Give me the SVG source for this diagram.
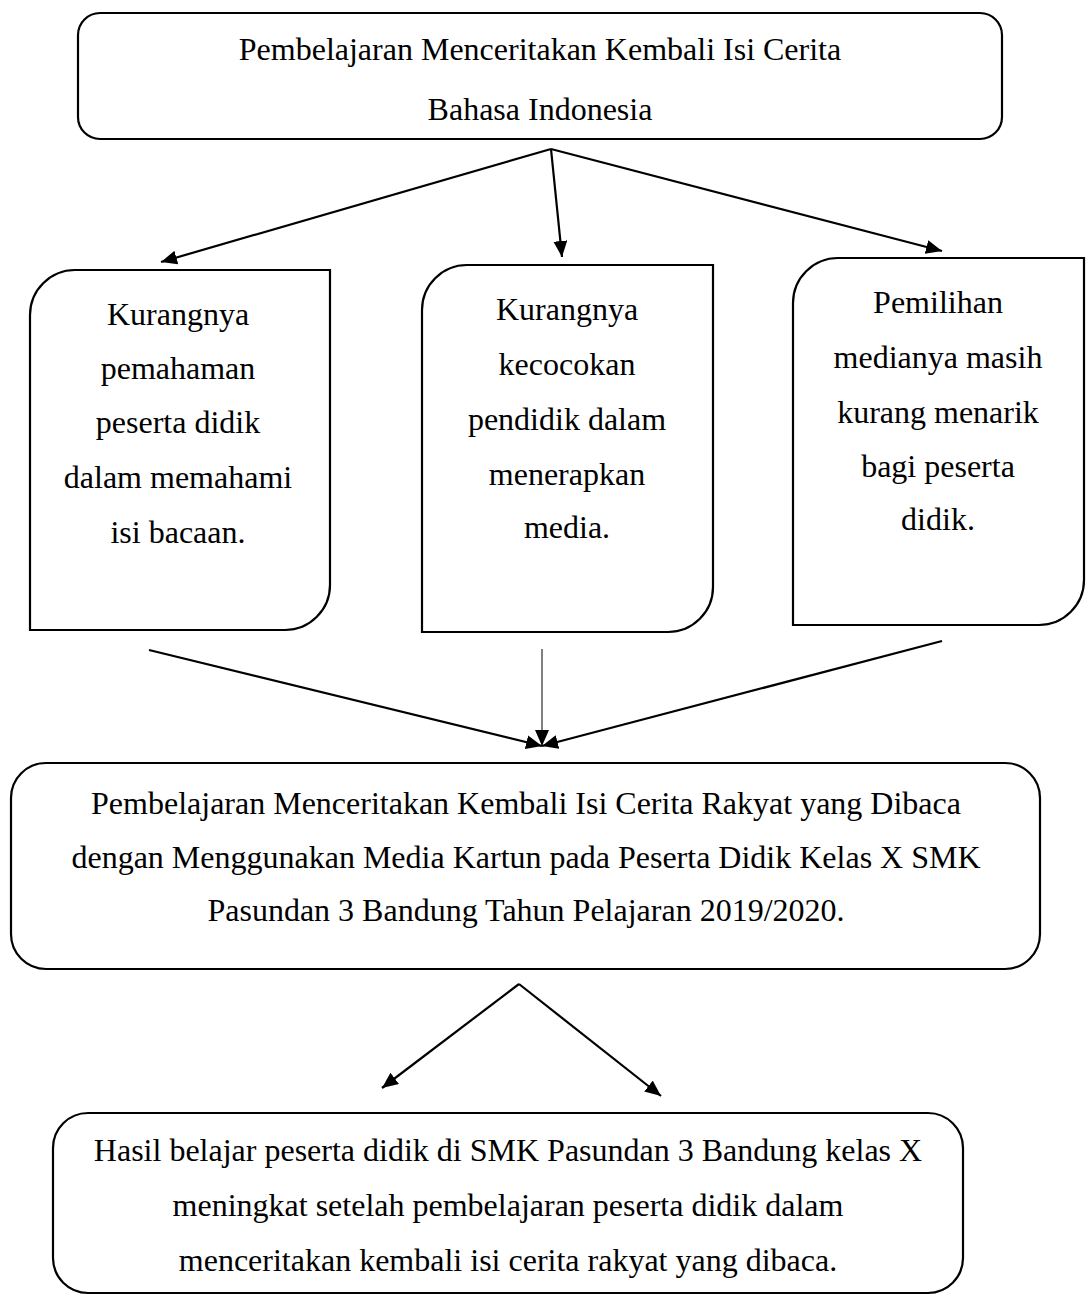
<svg xmlns="http://www.w3.org/2000/svg" width="1086" height="1296" viewBox="0 0 1086 1296">
<defs>
<style>
.box{fill:#fff;stroke:#000;stroke-width:2.2}
.t{font-family:"Liberation Serif","Times New Roman",serif;font-size:32px;fill:#000;text-anchor:middle}
.c{stroke:#000;stroke-width:2.2;fill:none}
.thin{stroke:#000;stroke-width:1;fill:none}
</style>
<marker id="ah" markerUnits="userSpaceOnUse" markerWidth="18" markerHeight="14" refX="16" refY="7" orient="auto">
<path d="M0,0 L16,7 L0,14 Z" fill="#000"/>
</marker>
</defs>
<rect width="1086" height="1296" fill="#fff"/>
<g id="connectors">
<line class="c" x1="551" y1="149" x2="161" y2="262" marker-end="url(#ah)"/>
<line class="c" x1="551" y1="149" x2="562" y2="257" marker-end="url(#ah)"/>
<line class="c" x1="551" y1="149" x2="942" y2="251" marker-end="url(#ah)"/>
<line class="c" x1="149" y1="650" x2="542" y2="746" marker-end="url(#ah)"/>
<line class="thin" x1="542" y1="649" x2="542" y2="746" marker-end="url(#ah)"/>
<line class="c" x1="942" y1="641" x2="542" y2="746" marker-end="url(#ah)"/>
<line class="c" x1="519" y1="984" x2="382" y2="1088" marker-end="url(#ah)"/>
<line class="c" x1="519" y1="984" x2="661" y2="1096" marker-end="url(#ah)"/>
</g>
<g id="top">
<rect class="box" x="78" y="13" width="924" height="126" rx="22"/>
<text class="t" x="540" y="60">Pembelajaran Menceritakan Kembali Isi Cerita</text>
<text class="t" x="540" y="120">Bahasa Indonesia</text>
</g>
<g id="left">
<path class="box" d="M30,315 A45,45 0 0 1 75,270 L330,270 L330,585 A45,45 0 0 1 285,630 L30,630 Z"/>
<text class="t" x="178" y="325">Kurangnya</text>
<text class="t" x="178" y="379">pemahaman</text>
<text class="t" x="178" y="433">peserta didik</text>
<text class="t" x="178" y="488">dalam memahami</text>
<text class="t" x="178" y="543">isi bacaan.</text>
</g>
<g id="middle">
<path class="box" d="M422,310 A45,45 0 0 1 467,265 L713,265 L713,587 A45,45 0 0 1 668,632 L422,632 Z"/>
<text class="t" x="567" y="320">Kurangnya</text>
<text class="t" x="567" y="375">kecocokan</text>
<text class="t" x="567" y="430">pendidik dalam</text>
<text class="t" x="567" y="485">menerapkan</text>
<text class="t" x="567" y="538">media.</text>
</g>
<g id="right">
<path class="box" d="M793,303 A45,45 0 0 1 838,258 L1084,258 L1084,580 A45,45 0 0 1 1039,625 L793,625 Z"/>
<text class="t" x="938" y="313">Pemilihan</text>
<text class="t" x="938" y="368">medianya masih</text>
<text class="t" x="938" y="423">kurang menarik</text>
<text class="t" x="938" y="477">bagi peserta</text>
<text class="t" x="938" y="530">didik.</text>
</g>
<g id="center">
<rect class="box" x="11" y="763" width="1029" height="206" rx="35"/>
<text class="t" x="526" y="814">Pembelajaran Menceritakan Kembali Isi Cerita Rakyat yang Dibaca</text>
<text class="t" x="526" y="868">dengan Menggunakan Media Kartun pada Peserta Didik Kelas X SMK</text>
<text class="t" x="526" y="921">Pasundan 3 Bandung Tahun Pelajaran 2019/2020.</text>
</g>
<g id="result">
<rect class="box" x="53" y="1113" width="910" height="180" rx="35"/>
<text class="t" x="508" y="1161">Hasil belajar peserta didik di SMK Pasundan 3 Bandung kelas X</text>
<text class="t" x="508" y="1216">meningkat setelah pembelajaran peserta didik dalam</text>
<text class="t" x="508" y="1271">menceritakan kembali isi cerita rakyat yang dibaca.</text>
</g>
</svg>
